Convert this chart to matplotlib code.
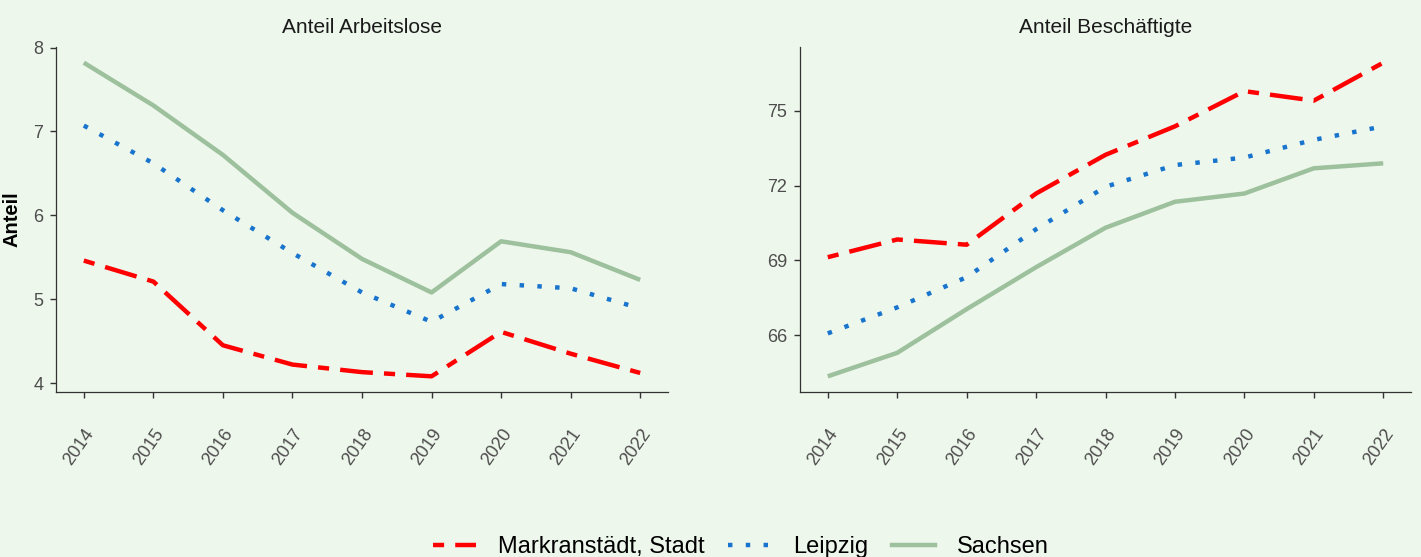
import matplotlib
matplotlib.use("Agg")
import matplotlib.pyplot as plt
from matplotlib.lines import Line2D

plt.rcParams['font.family'] = ['Liberation Sans', 'DejaVu Sans']

years = [2014, 2015, 2016, 2017, 2018, 2019, 2020, 2021, 2022]
series_names = ["Markranstädt, Stadt", "Leipzig", "Sachsen"]

arbeitslose_markranstaedt = [5.46, 5.21, 4.45, 4.22, 4.13, 4.08, 4.61, 4.35, 4.12]
arbeitslose_leipzig = [7.07, 6.62, 6.06, 5.55, 5.08, 4.73, 5.18, 5.13, 4.89]
arbeitslose_sachsen = [7.82, 7.31, 6.72, 6.03, 5.48, 5.08, 5.69, 5.56, 5.23]

beschaeftigte_markranstaedt = [69.13, 69.84, 69.63, 71.68, 73.23, 74.37, 75.78, 75.40, 76.92]
beschaeftigte_leipzig = [66.08, 67.12, 68.33, 70.25, 71.95, 72.82, 73.12, 73.83, 74.37]
beschaeftigte_sachsen = [64.36, 65.30, 67.05, 68.73, 70.31, 71.35, 71.68, 72.69, 72.89]

left_ticks = [4, 5, 6, 7, 8]
right_ticks = [66, 69, 72, 75]

bg = "#eef7ec"
colors = ["#ff0000", "#1874cd", "#9dc09d"]
styles = [(0, (2.5, 2.5, 7.4, 2.5)), (0, (1.0, 3.0)), "-"]
lw = 3.2

fig = plt.figure(figsize=(14.21, 5.57), dpi=100, facecolor=bg)
W, H = 1421, 557
ax1 = fig.add_axes([56 / W, 1 - 392 / H, (668 - 56) / W, (392 - 47) / H])
ax2 = fig.add_axes([800 / W, 1 - 392 / H, (1411 - 800) / W, (392 - 47) / H])

panels = [
    (ax1, "Anteil Arbeitslose", [arbeitslose_markranstaedt, arbeitslose_leipzig, arbeitslose_sachsen], left_ticks),
    (ax2, "Anteil Beschäftigte", [beschaeftigte_markranstaedt, beschaeftigte_leipzig, beschaeftigte_sachsen], right_ticks),
]

for ax, title, data, ticks in panels:
    ax.set_facecolor(bg)
    for vals, c, ls in zip(data[::-1], colors[::-1], styles[::-1]):
        ax.plot(years, vals, color=c, linestyle=ls, linewidth=lw,
                solid_capstyle="butt", dash_capstyle="butt", solid_joinstyle="round")
    allv = [v for s in data for v in s]
    lo, hi = min(allv), max(allv)
    pad = (hi - lo) * 0.05
    ax.set_ylim(lo - pad, hi + pad)
    ax.set_xlim(2013.6, 2022.4)
    ax.set_xticks(years)
    ax.set_xticklabels([str(y) for y in years], rotation=55, ha="right",
                       va="top", rotation_mode="anchor")
    ax.set_yticks(ticks)
    for s in ["top", "right"]:
        ax.spines[s].set_visible(False)
    for s in ["left", "bottom"]:
        ax.spines[s].set_color("#333333")
        ax.spines[s].set_linewidth(0.9)
    ax.tick_params(axis="both", length=4.5, width=1.0, color="#333333",
                   labelcolor="#4d4d4d", labelsize=13)
    ax.tick_params(axis="y", pad=4.5)
    ax.tick_params(axis="x", pad=20)
    ax.set_title(title, fontsize=15, color="#1a1a1a", pad=10)

ax1.set_ylabel("Anteil", fontsize=14.5, fontweight="bold")
ax1.yaxis.set_label_coords((21 - 56) / 612, 0.5)

handles = [Line2D([], [], color=c, linestyle=ls, linewidth=lw) for c, ls in zip(colors, styles)]
fig.legend(handles, series_names, loc="center", bbox_to_anchor=(0.5 + 30 / W, 1 - 547 / H),
           ncol=3, frameon=False, fontsize=17, handlelength=1.85, columnspacing=1.0,
           handletextpad=0.9, borderpad=0)

fig.savefig("out.png", dpi=100, facecolor=bg)
